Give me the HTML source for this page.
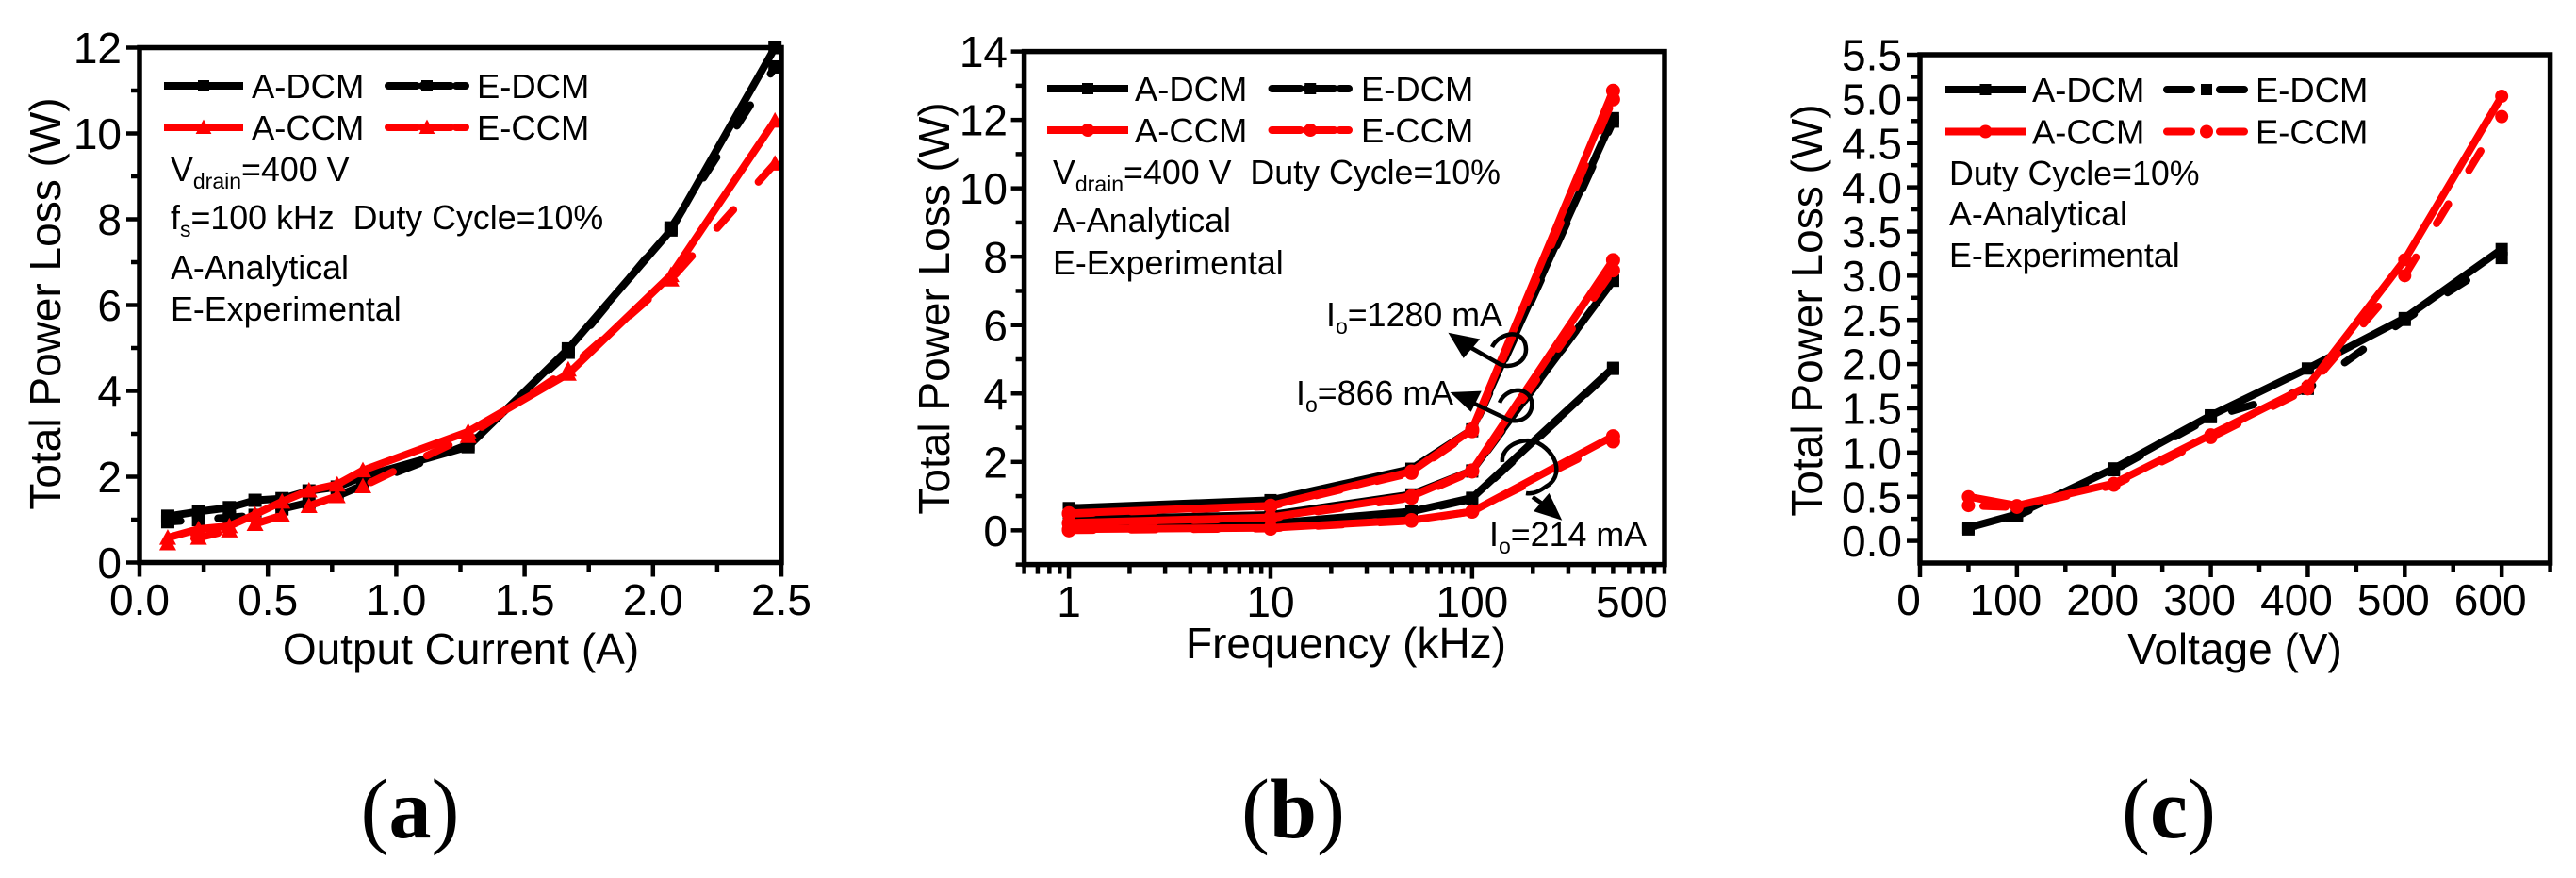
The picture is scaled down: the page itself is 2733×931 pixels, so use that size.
<!DOCTYPE html>
<html lang="en">
<head>
<meta charset="utf-8">
<title>Total Power Loss Charts</title>
<style>
html,body{margin:0;padding:0;background:#fff;width:2733px;height:931px;overflow:hidden}
svg{display:block}
text{font-family:"Liberation Sans",sans-serif;fill:#000}
.lab{font-family:"Liberation Serif",serif;font-size:90px}
</style>
</head>
<body>
<svg id="fig" xmlns="http://www.w3.org/2000/svg" width="2733" height="931" viewBox="0 0 2733 931">
<rect width="2733" height="931" fill="#fff"/>

<g font-size="35.8">
<text x="181" y="192">V<tspan font-size="23" dy="8">drain</tspan><tspan dy="-8">=400 V</tspan></text>
<text x="181" y="243">f<tspan font-size="23" dy="8">s</tspan><tspan dy="-8" xml:space="preserve">=100 kHz  Duty Cycle=10%</tspan></text>
<text x="181" y="296">A-Analytical</text>
<text x="181" y="340">E-Experimental</text>
</g>
<g font-size="35.8">
<text x="1117" y="195">V<tspan font-size="23" dy="8">drain</tspan><tspan dy="-8" xml:space="preserve">=400 V  Duty Cycle=10%</tspan></text>
<text x="1117" y="246">A-Analytical</text>
<text x="1117" y="291">E-Experimental</text>
<text x="1407" y="346">I<tspan font-size="23" dy="8">o</tspan><tspan dy="-8">=1280 mA</tspan></text>
<text x="1375" y="429">I<tspan font-size="23" dy="8">o</tspan><tspan dy="-8">=866 mA</tspan></text>
<text x="1580" y="579">I<tspan font-size="23" dy="8">o</tspan><tspan dy="-8">=214 mA</tspan></text>
</g>
<g font-size="35.8">
<text x="2068" y="196">Duty Cycle=10%</text>
<text x="2068" y="239">A-Analytical</text>
<text x="2068" y="283">E-Experimental</text>
</g>

<text class="lab" x="435" y="888" text-anchor="middle">(<tspan font-weight="bold">a</tspan>)</text>
<text class="lab" x="1372" y="888" text-anchor="middle">(<tspan font-weight="bold">b</tspan>)</text>
<text class="lab" x="2301" y="888" text-anchor="middle">(<tspan font-weight="bold">c</tspan>)</text>
</svg>

<script>
/* ---------- Panel (a) data ---------- */
var aCurrent = [0.11,0.23,0.35,0.45,0.555,0.66,0.77,0.87,1.28,1.67,2.07,2.475];
var aDcmAnalytical = [1.08,1.19,1.28,1.45,1.49,1.67,1.76,2.0,2.7,4.98,7.75,12.0];
var aDcmExperimental = [0.95,1.0,1.05,1.1,1.25,1.4,1.55,1.8,2.75,4.9,7.8,11.55];
var aCcmAnalytical = [0.58,0.78,0.85,1.12,1.42,1.68,1.82,2.15,3.05,4.4,6.7,10.3];
var aCcmExperimental = [0.45,0.58,0.75,0.9,1.1,1.32,1.55,1.78,2.95,4.5,6.6,9.3];
var aXTicks = [0,0.5,1,1.5,2,2.5];
var aXTickLabels = ["0.0","0.5","1.0","1.5","2.0","2.5"];
var aXMinor = [0.25,0.75,1.25,1.75,2.25];
var aYTicks = [0,2,4,6,8,10,12];
var aYTickLabels = ["0","2","4","6","8","10","12"];
var aYMinor = [1,3,5,7,9,11];

/* ---------- Panel (b) data ---------- */
var bFrequency = [1,10,50,100,500];
var b1280DcmAnalytical = [0.65,0.88,1.8,2.95,12.05];
var b1280DcmExperimental = [0.62,0.85,1.75,2.9,11.95];
var b1280CcmAnalytical = [0.5,0.72,1.72,2.95,12.85];
var b1280CcmExperimental = [0.48,0.7,1.68,2.9,12.6];
var b866DcmAnalytical = [0.32,0.45,1.05,1.75,7.3];
var b866DcmExperimental = [0.3,0.42,1.0,1.72,7.3];
var b866CcmAnalytical = [0.22,0.38,1.0,1.75,7.9];
var b866CcmExperimental = [0.2,0.35,0.95,1.72,7.6];
var b214DcmAnalytical = [0.12,0.2,0.55,0.95,4.75];
var b214DcmExperimental = [0.1,0.18,0.52,0.92,4.72];
var b214CcmAnalytical = [0.03,0.07,0.3,0.55,2.75];
var b214CcmExperimental = [0.0,0.05,0.28,0.55,2.6];
var bXTicks = [1,10,100];
var bXTickLabels = ["1","10","100"];
var bXEndLabelValue = [620];
var bXEndLabel = ["500"];
var bXMinor = [0.6,0.7,0.8,0.9,2,3,4,5,6,7,8,9,20,30,40,50,60,70,80,90,200,300,400,500,600,700,800,900];
var bYTicks = [0,2,4,6,8,10,12,14];
var bYTickLabels = ["0","2","4","6","8","10","12","14"];
var bYMinor = [-1,1,3,5,7,9,11,13];

/* ---------- Panel (c) data ---------- */
var cVoltage = [50,100,200,300,400,500,600];
var cDcmAnalytical = [0.15,0.3,0.82,1.42,1.95,2.52,3.3];
var cDcmExperimental = [0.13,0.28,0.8,1.4,1.72,2.5,3.2];
var cCcmAnalytical = [0.5,0.4,0.65,1.2,1.75,3.18,5.03];
var cCcmExperimental = [0.4,0.38,0.63,1.17,1.72,3.0,4.8];
var cXTicks = [0,100,200,300,400,500,600];
var cXTickLabels = ["0","100","200","300","400","500","600"];
var cXMinor = [50,150,250,350,450,550,650];
var cYTicks = [0,0.5,1,1.5,2,2.5,3,3.5,4,4.5,5,5.5];
var cYTickLabels = ["0.0","0.5","1.0","1.5","2.0","2.5","3.0","3.5","4.0","4.5","5.0","5.5"];
var cYMinor = [0.25,0.75,1.25,1.75,2.25,2.75,3.25,3.75,4.25,4.75,5.25];

var legendNames = ["A-DCM","E-DCM","A-CCM","E-CCM"];

/* ---------- drawing ---------- */
var NS = "http://www.w3.org/2000/svg";
var fig = document.getElementById("fig");

function node(parent, tag, name, props) {
  var el = document.createElementNS(NS, tag);
  for (var k in props) el.setAttribute(k, props[k]);
  
  
  parent.appendChild(el);
  return el;
}
function label(parent, name, str, x, y, size, anchor, rotate) {
  var props = {x:x, y:y, "font-size":size, "text-anchor":anchor};
  if (rotate) props.transform = "rotate(-90 " + x + " " + y + ")";
  var t = node(parent, "text", name, props);
  t.textContent = str;
  return t;
}
function marker(parent, name, kind, x, y, color, s) {
  if (kind === "square") {
    node(parent, "rect", name, {x:x-s/2, y:y-s/2, width:s, height:s, fill:color});
  } else if (kind === "triangle") {
    var pts = x+","+(y-s*0.6)+" "+(x-s*0.6)+","+(y+s*0.5)+" "+(x+s*0.6)+","+(y+s*0.5);
    node(parent, "polygon", name, {points:pts, fill:color});
  } else {
    node(parent, "circle", name, {cx:x, cy:y, r:s/2, fill:color});
  }
}
function series(g, p, name, xs, ys, color, dash, offset, kind, size) {
  var pts = xs.map(function(v,i){ return p.sx(v).toFixed(1)+","+p.sy(ys[i]).toFixed(1); }).join(" ");
  var props = {points:pts, fill:"none", stroke:color, "stroke-width":8, "stroke-linejoin":"round"};
  if (dash) { props["stroke-dasharray"] = dash; props["stroke-dashoffset"] = offset; props["stroke-linecap"] = "round"; }
  node(g, "polyline", name + "-line", props);
  xs.forEach(function(v,i){
    marker(g, name + "-point", kind, p.sx(v), p.sy(ys[i]), color, size);
  });
}
function axes(p, cfg) {
  var g = node(fig, "g", p.id + "-axes", {});
  var tk = {stroke:"#000", "stroke-width":4.5};
  cfg.xMinor.forEach(function(v){
    var x = p.sx(v);
    node(g, "line", p.id + "-x-minor-tick", Object.assign({x1:x, x2:x, y1:p.b, y2:p.b+10}, tk));
  });
  cfg.xTicks.forEach(function(v,i){
    var x = p.sx(v);
    node(g, "line", p.id + "-x-tick", Object.assign({x1:x, x2:x, y1:p.b, y2:p.b+15}, tk));
    label(g, p.id + "-x-tick-label", cfg.xLabels[i], x + cfg.xLabelDx, cfg.xLabelY, cfg.tickSize, "middle");
  });
  cfg.yMinor.forEach(function(v){
    var y = p.sy(v);
    node(g, "line", p.id + "-y-minor-tick", Object.assign({x1:p.l-9, x2:p.l, y1:y, y2:y}, tk));
  });
  cfg.yTicks.forEach(function(v,i){
    var y = p.sy(v);
    node(g, "line", p.id + "-y-tick", Object.assign({x1:p.l-14, x2:p.l, y1:y, y2:y}, tk));
    label(g, p.id + "-y-tick-label", cfg.yLabels[i], cfg.yLabelX, y + cfg.tickSize*0.36, cfg.tickSize, "end");
  });
  node(g, "rect", p.id + "-plot-frame", {x:p.l, y:p.t, width:p.r-p.l, height:p.b-p.t, fill:"none", stroke:"#000", "stroke-width":5.5});
  label(g, p.id + "-x-axis-title", cfg.xTitle, cfg.xTitleX, cfg.xTitleY, 46, "middle");
  label(g, p.id + "-y-axis-title", "Total Power Loss (W)", cfg.yTitleX, cfg.yTitleY, 46, "middle", true);
}
function legend(p, cfg) {
  var g = node(fig, "g", p.id + "-legend", {});
  var colors = ["#000","#000","#f00","#f00"];
  legendNames.forEach(function(nm,i){
    var col = i % 2, row = i < 2 ? 0 : 1;
    var x1 = cfg.x1[col], x2 = cfg.x2[col], y = cfg.rows[row];
    var kind = row === 0 ? "square" : cfg.ccmMarker;
    var props = {x1:x1, x2:x2, y1:y, y2:y, stroke:colors[i], "stroke-width":8};
    if (col === 1) { props["stroke-dasharray"] = cfg.dash; props["stroke-linecap"] = "round"; }
    node(g, "line", "legend-line-" + nm.toLowerCase(), props);
    marker(g, "legend-marker-" + nm.toLowerCase(), kind, (x1+x2)/2, y, colors[i], row === 0 ? 12 : 14);
    label(g, "legend-label-" + nm.toLowerCase(), nm, cfg.textX[col], y + 13, 36.4, "start");
  });
}
function linearPanel(id, l, r, t, b, x0, x1, y0, y1) {
  return {id:id, l:l, r:r, t:t, b:b,
    sx:function(v){ return l + (v-x0)/(x1-x0)*(r-l); },
    sy:function(v){ return b - (v-y0)/(y1-y0)*(b-t); }};
}
function logPanel(id, l, r, t, b, x0, x1, y0, y1) {
  var lo = Math.log10(x0), hi = Math.log10(x1);
  return {id:id, l:l, r:r, t:t, b:b,
    sx:function(v){ return l + (Math.log10(v)-lo)/(hi-lo)*(r-l); },
    sy:function(v){ return b - (v-y0)/(y1-y0)*(b-t); }};
}

/* Panel a */
var pa = linearPanel("panel-a", 148, 829, 50.5, 596.5, 0, 2.5, 0, 12);
var ga = node(fig, "g", "panel-a-series", {});
var DASH_A = "26 39.7";
series(ga, pa, "a-dcm-analytical", aCurrent, aDcmAnalytical, "#000", null, 0, "square", 14);
series(ga, pa, "a-dcm-experimental", aCurrent, aDcmExperimental, "#000", DASH_A, 12.3, "square", 14);
series(ga, pa, "a-ccm-analytical", aCurrent, aCcmAnalytical, "#f00", null, 0, "triangle", 15);
series(ga, pa, "a-ccm-experimental", aCurrent, aCcmExperimental, "#f00", DASH_A, 37.3, "triangle", 15);
axes(pa, {xTicks:aXTicks, xLabels:aXTickLabels, xMinor:aXMinor, yTicks:aYTicks, yLabels:aYTickLabels, yMinor:aYMinor,
  xLabelDx:0, xLabelY:652, yLabelX:129, tickSize:46, xTitle:"Output Current (A)", xTitleX:489, xTitleY:704, yTitleX:64, yTitleY:322});
legend(pa, {x1:[174,412], x2:[258,494], rows:[91,135], textX:[267,506], ccmMarker:"triangle", dash:"30 6"});

/* Panel b */
var pb = logPanel("panel-b", 1086.6, 1766, 54.6, 598.6, 0.6, 900, -1, 14);
var gb = node(fig, "g", "panel-b-series", {});
var DASH_B = "26 40";
series(gb, pb, "b-1280-dcm-analytical", bFrequency, b1280DcmAnalytical, "#000", null, 0, "square", 13);
series(gb, pb, "b-1280-dcm-experimental", bFrequency, b1280DcmExperimental, "#000", DASH_B, 0, "square", 13);
series(gb, pb, "b-866-dcm-analytical", bFrequency, b866DcmAnalytical, "#000", null, 0, "square", 13);
series(gb, pb, "b-866-dcm-experimental", bFrequency, b866DcmExperimental, "#000", DASH_B, 0, "square", 13);
series(gb, pb, "b-214-dcm-analytical", bFrequency, b214DcmAnalytical, "#000", null, 0, "square", 13);
series(gb, pb, "b-214-dcm-experimental", bFrequency, b214DcmExperimental, "#000", DASH_B, 0, "square", 13);
series(gb, pb, "b-1280-ccm-analytical", bFrequency, b1280CcmAnalytical, "#f00", null, 0, "circle", 15);
series(gb, pb, "b-1280-ccm-experimental", bFrequency, b1280CcmExperimental, "#f00", DASH_B, 0, "circle", 15);
series(gb, pb, "b-866-ccm-analytical", bFrequency, b866CcmAnalytical, "#f00", null, 0, "circle", 15);
series(gb, pb, "b-866-ccm-experimental", bFrequency, b866CcmExperimental, "#f00", DASH_B, 0, "circle", 15);
series(gb, pb, "b-214-ccm-analytical", bFrequency, b214CcmAnalytical, "#f00", null, 0, "circle", 15);
series(gb, pb, "b-214-ccm-experimental", bFrequency, b214CcmExperimental, "#f00", DASH_B, 0, "circle", 15);
axes(pb, {xTicks:bXTicks, xLabels:bXTickLabels, xMinor:bXMinor, yTicks:bYTicks, yLabels:bYTickLabels, yMinor:bYMinor,
  xLabelDx:0, xLabelY:654, yLabelX:1069, tickSize:46, xTitle:"Frequency (kHz)", xTitleX:1428, xTitleY:698, yTitleX:1007, yTitleY:327});
label(fig, "panel-b-x-end-label", bXEndLabel[0], pb.sx(bXEndLabelValue[0]), 654, 46, "middle");
legend(pb, {x1:[1111,1349.5], x2:[1197,1431], rows:[94,138], textX:[1204,1444], ccmMarker:"circle", dash:"30 6"});

/* Panel b arrows */
var ag = node(fig, "g", "panel-b-arrows", {fill:"none", stroke:"#000", "stroke-width":4.5});
node(ag, "path", "io-1280-curved-arrow", {d:"M1583 368 C1590 354 1612 348 1618 364 C1624 384 1602 392 1591 386 L1556 366"});
node(ag, "polygon", "io-1280-arrow-head", {points:"1541,356 1566,361 1553,376", fill:"#000"});
node(ag, "path", "io-866-curved-arrow", {d:"M1591 427 C1597 412 1620 408 1625 425 C1628 444 1608 451 1596 443 L1558 425"});
node(ag, "polygon", "io-866-arrow-head", {points:"1544,418 1568,417 1560,433", fill:"#000"});
node(ag, "path", "io-214-curved-arrow", {d:"M1594 490 C1592 475 1612 464 1628 468 C1652 478 1660 505 1640 516 C1632 522 1625 524 1619 523"});
node(ag, "path", "io-214-arrow-shaft", {d:"M1626 527 L1642 538"});
node(ag, "polygon", "io-214-arrow-head", {points:"1653,548 1631,541 1643,527", fill:"#000"});

/* Panel c */
var pc = linearPanel("panel-c", 2037, 2705.6, 58, 597, 0, 650, -0.25, 5.5);
var gc = node(fig, "g", "panel-c-series", {});
var DASH_C = "24 42";
series(gc, pc, "c-dcm-analytical", cVoltage, cDcmAnalytical, "#000", null, 0, "square", 13);
series(gc, pc, "c-dcm-experimental", cVoltage, cDcmExperimental, "#000", DASH_C, 22.4, "square", 13);
series(gc, pc, "c-ccm-analytical", cVoltage, cCcmAnalytical, "#f00", null, 0, "circle", 14);
series(gc, pc, "c-ccm-experimental", cVoltage, cCcmExperimental, "#f00", DASH_C, 50.4, "circle", 14);
axes(pc, {xTicks:cXTicks, xLabels:cXTickLabels, xMinor:cXMinor, yTicks:cYTicks, yLabels:cYTickLabels, yMinor:cYMinor,
  xLabelDx:-12, xLabelY:652, yLabelX:2018, tickSize:46, xTitle:"Voltage (V)", xTitleX:2371, xTitleY:704, yTitleX:1933, yTitleY:329});
legend(pc, {x1:[2064,2299], x2:[2149,2383], rows:[95,139.5], textX:[2156,2393], ccmMarker:"circle", dash:"26 30"});
</script>
</body>
</html>
